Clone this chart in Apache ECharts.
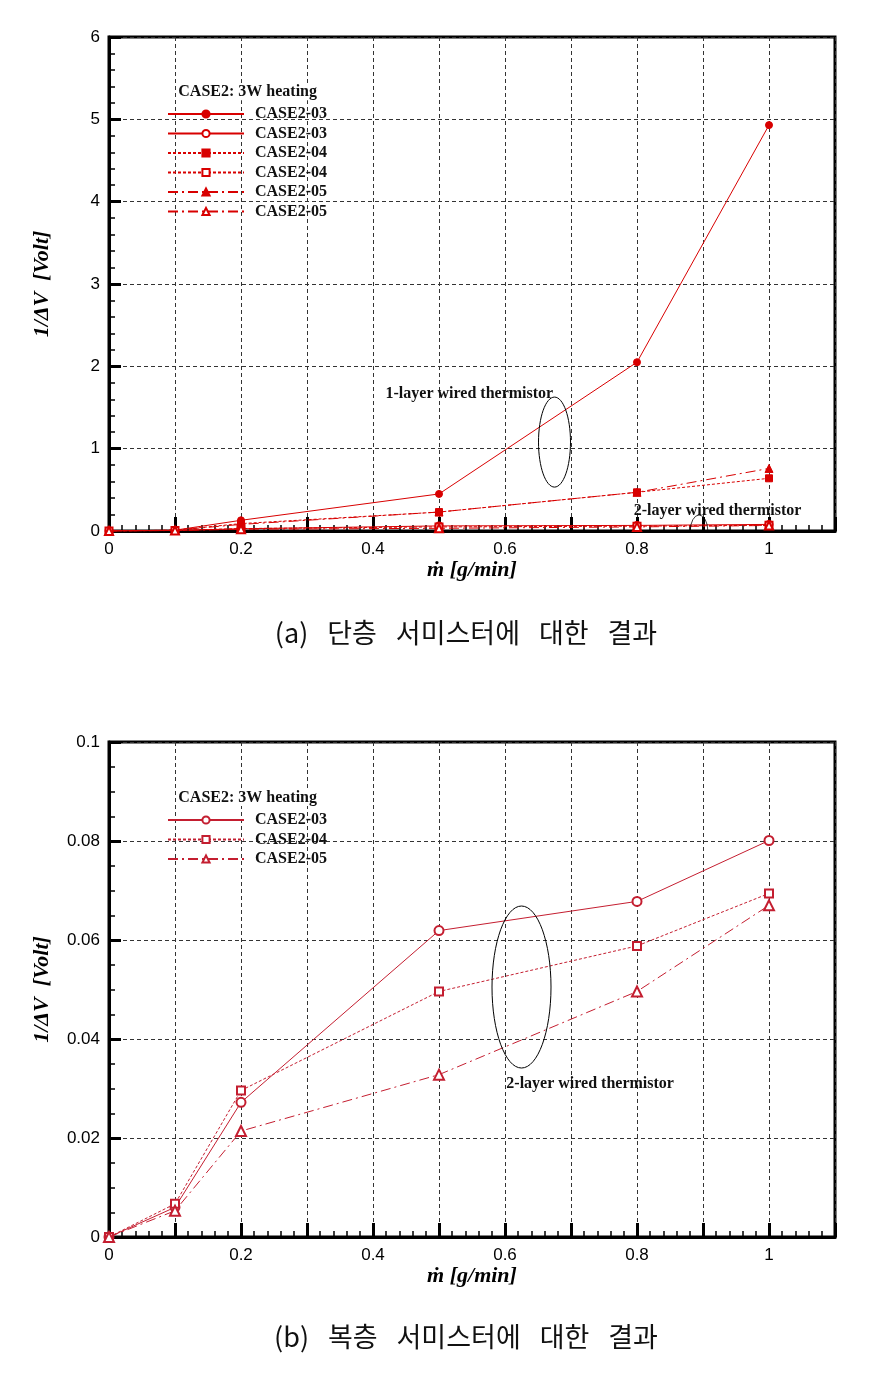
<!DOCTYPE html>
<html>
<head>
<meta charset="utf-8">
<script src="https://cdn.jsdelivr.net/npm/echarts@6/dist/echarts.min.js"></script>
<style>
html,body{margin:0;padding:0;background:#fff;}
#chart{width:882px;height:1396px;}
</style>
</head>
<body>
<div id="chart"></div>
<script>
// ---- data ----
const xVals = [0, 0.1, 0.2, 0.5, 0.8, 1.0];
// (a) 1-layer wired thermistor (filled markers) + 2-layer (open markers)
const c03_1layer = [0, 0.01, 0.13, 0.45, 2.05, 4.93];
const c04_1layer = [0, 0.01, 0.09, 0.23, 0.47, 0.64];
const c05_1layer = [0, 0.01, 0.08, 0.23, 0.47, 0.76];
// (b) 2-layer wired thermistor
const c03_2layer = [0, 0.006, 0.0272, 0.0619, 0.0678, 0.0801];
const c04_2layer = [0, 0.0067, 0.0296, 0.0496, 0.0588, 0.0694];
const c05_2layer = [0, 0.0053, 0.0214, 0.0328, 0.0496, 0.067];

const xTickLabels = ['0', '0.2', '0.4', '0.6', '0.8', '1'];
const legendTitle = 'CASE2: 3W heating';
const SP = '\u2002\u2009';
const captionA = ['(a)', '단층', '서미스터에', '대한', '결과'].join(SP);
const captionB = ['(b)', '복층', '서미스터에', '대한', '결과'].join(SP);
const xName = 'ṁ [g/min]';
const yName = '1/ΔV  [Volt]';

const pairs = v => xVals.map((x, i) => [x, v[i]]);

const RED_A = '#d80000';
const RED_B = '#c41e30';
const SOLID = 'solid';
const DASH = [3, 2];
const DASHDOT = [10, 4, 2, 4];

const chart = echarts.init(document.getElementById('chart'), null, {renderer: 'canvas'});

function xAxis(gridIndex) {
  return {
    type: 'value', gridIndex, min: 0, max: 1.1, interval: 0.1,
    axisLine: {show: true, onZero: false, lineStyle: {color: '#000', width: 3}},
    axisTick: {show: true, inside: true, length: 14, lineStyle: {color: '#000', width: 3}},
    minorTick: {show: true, splitNumber: 5, length: 6, lineStyle: {color: '#000', width: 1.5}},
    splitLine: {show: true, lineStyle: {color: '#333', width: 1, type: [4, 3]}},
    axisLabel: {
      color: '#000', fontFamily: 'Liberation Sans', fontSize: 17, margin: 10,
      formatter: v => { const k = Math.round(v * 10); return (k % 2 === 0 && k <= 10) ? xTickLabels[k / 2] : ''; }
    },
    name: xName, nameLocation: 'middle', nameGap: 24,
    nameTextStyle: {color: '#000', fontFamily: 'Liberation Serif', fontWeight: 'bold', fontStyle: 'italic', fontSize: 22}
  };
}
function yAxis(gridIndex, max, interval, minorSplit) {
  return {
    type: 'value', gridIndex, min: 0, max, interval,
    axisLine: {show: true, onZero: false, lineStyle: {color: '#000', width: 3}},
    axisTick: {show: true, inside: true, length: 12, lineStyle: {color: '#000', width: 3}},
    minorTick: {show: true, splitNumber: minorSplit, length: 6, lineStyle: {color: '#000', width: 1.5}},
    splitLine: {show: true, lineStyle: {color: '#333', width: 1, type: [4, 3]}},
    axisLabel: {color: '#000', fontFamily: 'Liberation Sans', fontSize: 17, margin: 9},
    name: yName, nameLocation: 'middle', nameGap: 56, nameRotate: 90,
    nameTextStyle: {color: '#000', fontFamily: 'Liberation Serif', fontWeight: 'bold', fontStyle: 'italic', fontSize: 22}
  };
}
function series(name, data, gi, color, type, symbol, size) {
  return {
    name, type: 'line', xAxisIndex: gi, yAxisIndex: gi, data: pairs(data),
    symbol, symbolSize: size, showSymbol: true, animation: false,
    lineStyle: {color, width: 1, type},
    itemStyle: {color, borderColor: color, borderWidth: 1}
  };
}
const legendCommon = {
  orient: 'vertical', left: 167, padding: 0, itemGap: 3.5, itemWidth: 76, itemHeight: 9,
  textStyle: {color: '#111', fontFamily: 'Liberation Serif', fontWeight: 'bold', fontSize: 16, padding: [0, 0, 0, 6]}
};
const ZW = '\u200B';

const option = {
  backgroundColor: '#fff',
  animation: false,
  grid: [
    {left: 109, top: 37, width: 726, height: 494, show: true, borderColor: '#000', borderWidth: 3, backgroundColor: 'transparent'},
    {left: 109, top: 742, width: 726, height: 495, show: true, borderColor: '#000', borderWidth: 3, backgroundColor: 'transparent'}
  ],
  xAxis: [xAxis(0), xAxis(1)],
  yAxis: [yAxis(0, 6, 1, 5), yAxis(1, 0.1, 0.02, 4)],
  legend: [
    Object.assign({}, legendCommon, {top: 106, data: ['CASE2-03', 'CASE2-03' + ZW, 'CASE2-04', 'CASE2-04' + ZW, 'CASE2-05', 'CASE2-05' + ZW]}),
    Object.assign({}, legendCommon, {top: 812, data: ['CASE2-03' + ZW + ZW, 'CASE2-04' + ZW + ZW, 'CASE2-05' + ZW + ZW]})
  ],
  series: [
    series('CASE2-03', c03_1layer, 0, RED_A, SOLID, 'circle', 7),
    series('CASE2-03' + ZW, c03_2layer, 0, RED_A, SOLID, 'emptyCircle', 7),
    series('CASE2-04', c04_1layer, 0, RED_A, DASH, 'rect', 7),
    series('CASE2-04' + ZW, c04_2layer, 0, RED_A, DASH, 'emptyRect', 7),
    series('CASE2-05', c05_1layer, 0, RED_A, DASHDOT, 'triangle', 8),
    series('CASE2-05' + ZW, c05_2layer, 0, RED_A, DASHDOT, 'emptyTriangle', 8),
    series('CASE2-03' + ZW + ZW, c03_2layer, 1, RED_B, SOLID, 'emptyCircle', 9),
    series('CASE2-04' + ZW + ZW, c04_2layer, 1, RED_B, DASH, 'emptyRect', 8),
    series('CASE2-05' + ZW + ZW, c05_2layer, 1, RED_B, DASHDOT, 'emptyTriangle', 10)
  ]
};
chart.setOption(option);

// ---- annotations positioned through the axes ----
const px = (gi, x, y) => chart.convertToPixel({gridIndex: gi}, [x, y]);
const serifBold = {fontFamily: 'Liberation Serif', fontWeight: 'bold', fontSize: 16, fill: '#111'};
const eA = px(0, 0.675, 1.08);
const eB = px(1, 0.625, 0.0505);
const eS = px(0, 0.894, 0);
const tA1 = px(0, 0.419, 1.66);
const tA2 = px(0, 0.795, 0.25);
const tB = px(1, 0.602, 0.031);
const legA = px(0, 0.105, 5.33);
const legB = px(1, 0.105, 0.0887);
const capX = 466;

chart.setOption({
  graphic: [
    {type: 'ellipse', shape: {cx: eA[0], cy: eA[1], rx: 16, ry: 45}, style: {fill: 'none', stroke: '#000', lineWidth: 1}, z: 10},
    {type: 'ellipse', shape: {cx: eB[0], cy: eB[1], rx: 29.5, ry: 81}, style: {fill: 'none', stroke: '#000', lineWidth: 1}, z: 10},
    {type: 'arc', shape: {cx: eS[0], cy: eS[1], r: 16, startAngle: Math.PI, endAngle: 2 * Math.PI}, scaleX: 0.55, originX: eS[0], originY: eS[1], style: {fill: 'none', stroke: '#000', lineWidth: 1}, z: 10},
    {type: 'text', x: tA1[0], y: tA1[1], style: Object.assign({text: '1-layer wired thermistor', textVerticalAlign: 'middle'}, serifBold), z: 10},
    {type: 'text', x: tA2[0], y: tA2[1], style: Object.assign({text: '2-layer wired thermistor', textVerticalAlign: 'middle'}, serifBold), z: 10},
    {type: 'text', x: tB[0], y: tB[1], style: Object.assign({text: '2-layer wired thermistor', textVerticalAlign: 'middle'}, serifBold), z: 10},
    {type: 'text', x: legA[0], y: legA[1], style: Object.assign({text: legendTitle, textVerticalAlign: 'middle', backgroundColor: '#fff'}, serifBold), z: 10},
    {type: 'text', x: legB[0], y: legB[1], style: Object.assign({text: legendTitle, textVerticalAlign: 'middle', backgroundColor: '#fff'}, serifBold), z: 10},
    {type: 'text', x: capX, y: 633, style: {text: captionA, textAlign: 'center', textVerticalAlign: 'middle', fontFamily: 'Noto Sans CJK KR', fontSize: 27, fill: '#111'}},
    {type: 'text', x: capX, y: 1337, style: {text: captionB, textAlign: 'center', textVerticalAlign: 'middle', fontFamily: 'Noto Sans CJK KR', fontSize: 27, fill: '#111'}}
  ]
});
</script>
</body>
</html>
